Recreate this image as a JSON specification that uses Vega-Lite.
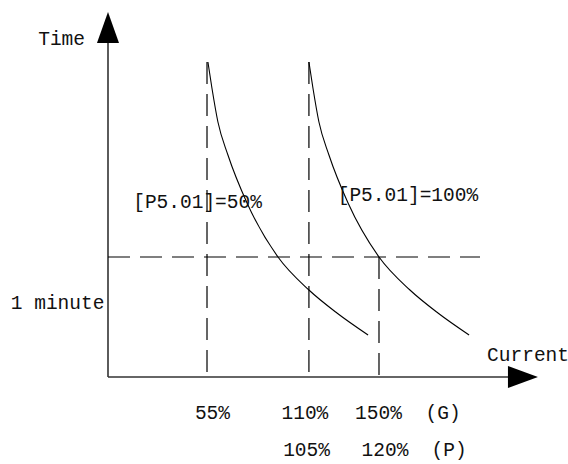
{
  "$schema": "https://vega.github.io/schema/vega-lite/v6.json",
  "width": 568,
  "height": 464,
  "padding": 0,
  "autosize": {"type": "none"},
  "background": "white",
  "config": {"view": {"stroke": null}},
  "datasets": {
    "axes": [
      {"x": 0, "y": 0, "x2": 0, "y2": 167},
      {"x": 0, "y": 0, "x2": 219.8, "y2": 0}
    ],
    "guides": [
      {"x": 54.4, "y": 157.5, "x2": 54.4, "y2": 0},
      {"x": 110.4, "y": 157.5, "x2": 110.4, "y2": 0},
      {"x": 148.9, "y": 60, "x2": 148.9, "y2": 0},
      {"x": 0, "y": 60, "x2": 204.4, "y2": 60}
    ],
    "curves": [
      {"series": "50%", "x": 54.9, "y": 157.5},
      {"series": "50%", "x": 57.1, "y": 144.5},
      {"series": "50%", "x": 60.4, "y": 127.5},
      {"series": "50%", "x": 65.9, "y": 111},
      {"series": "50%", "x": 76.4, "y": 87},
      {"series": "50%", "x": 93.4, "y": 60},
      {"series": "50%", "x": 110.4, "y": 43.5},
      {"series": "50%", "x": 125.8, "y": 32},
      {"series": "50%", "x": 142.9, "y": 21},
      {"series": "100%", "x": 110.4, "y": 157.5},
      {"series": "100%", "x": 112.6, "y": 144.5},
      {"series": "100%", "x": 115.9, "y": 127.5},
      {"series": "100%", "x": 121.4, "y": 111},
      {"series": "100%", "x": 131.9, "y": 87},
      {"series": "100%", "x": 148.9, "y": 60},
      {"series": "100%", "x": 165.9, "y": 43.5},
      {"series": "100%", "x": 181.3, "y": 32},
      {"series": "100%", "x": 198.4, "y": 21}
    ],
    "labels": [
      {"label": "Time", "x": -25.5, "y": 169},
      {"label": "1 minute", "x": -27.7, "y": 37},
      {"label": "[P5.01]=50%", "x": 49.2, "y": 87.5},
      {"label": "[P5.01]=100%", "x": 164.8, "y": 91},
      {"label": "55%", "x": 57.4, "y": -18},
      {"label": "110%", "x": 108.2, "y": -18},
      {"label": "150%", "x": 148.6, "y": -18},
      {"label": "(G)", "x": 184.1, "y": -18},
      {"label": "105%", "x": 109.1, "y": -36.5},
      {"label": "120%", "x": 152.2, "y": -36.5},
      {"label": "(P)", "x": 187.4, "y": -36.5},
      {"label": "Current", "x": 230.8, "y": 11}
    ],
    "arrows": [
      {"dir": "up", "x": 0, "y": 174.75},
      {"dir": "right", "x": 228.0, "y": 0}
    ]
  },
  "encoding": {
    "x": {"field": "x", "type": "quantitative", "scale": {"domain": [-59.34, 252.75], "nice": false, "zero": false}, "axis": null},
    "y": {"field": "y", "type": "quantitative", "scale": {"domain": [-43.5, 188.5], "nice": false, "zero": false}, "axis": null}
  },
  "layer": [
    {
      "data": {"name": "axes"},
      "mark": {"type": "rule", "color": "#333333", "strokeWidth": 1.6},
      "encoding": {"x2": {"field": "x2"}, "y2": {"field": "y2"}}
    },
    {
      "data": {"name": "guides"},
      "mark": {"type": "rule", "color": "#000000", "strokeWidth": 1.2, "strokeDash": [22, 10]},
      "encoding": {"x2": {"field": "x2"}, "y2": {"field": "y2"}}
    },
    {
      "data": {"name": "curves"},
      "mark": {"type": "line", "color": "#000000", "strokeWidth": 1.1, "interpolate": "monotone"},
      "encoding": {"detail": {"field": "series", "type": "nominal"}}
    },
    {
      "data": {"name": "labels"},
      "mark": {"type": "text", "font": "Liberation Mono", "fontSize": 19.5, "color": "#111111", "align": "center", "baseline": "middle"},
      "encoding": {"text": {"field": "label", "type": "nominal"}}
    },
    {
      "data": {"name": "arrows"},
      "transform": [{"filter": "datum.dir === 'up'"}],
      "mark": {"type": "point", "shape": "M0,-1 L0.71,1 L-0.71,1 Z", "size": 961, "filled": true, "color": "#000000", "opacity": 1, "strokeWidth": 0}
    },
    {
      "data": {"name": "arrows"},
      "transform": [{"filter": "datum.dir === 'right'"}],
      "mark": {"type": "point", "shape": "M1,0 L-1,-0.73 L-1,0.73 Z", "size": 900, "filled": true, "color": "#000000", "opacity": 1, "strokeWidth": 0}
    }
  ]
}
